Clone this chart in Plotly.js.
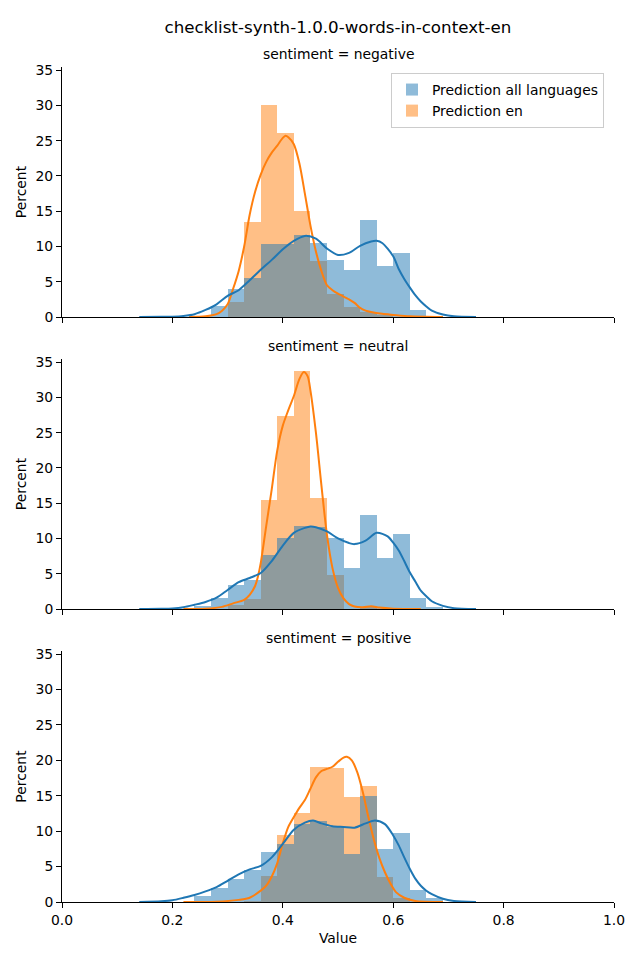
<!DOCTYPE html>
<html>
<head>
<meta charset="utf-8">
<script src="https://cdn.plot.ly/plotly-3.0.1.min.js"></script>
<style>html,body{margin:0;padding:0;background:#fff;}#chart{width:640px;height:960px;}</style>
</head>
<body>
<div id="chart"></div>
<script>
// ---- data ----
const chartTitle = "checklist-synth-1.0.0-words-in-context-en";
const facetTitles = ["sentiment = negative", "sentiment = neutral", "sentiment = positive"];
const seriesNames = ["Prediction all languages", "Prediction en"];

// histogram bin centers (bin width 0.03)
const binCenters = [0.255, 0.285, 0.315, 0.345, 0.375, 0.405, 0.435, 0.465, 0.495, 0.525, 0.555, 0.585, 0.615, 0.645, 0.675];
const binWidth = 0.03;

// histogram percentages
const negAll = [0.2, 1.6, 4.0, 5.6, 10.4, 10.3, 11.6, 10.5, 8.1, 6.6, 13.8, 7.3, 9.1, 1.0, 0.1];
const negEn  = [0, 0, 2.1, 13.5, 30.0, 26.1, 15.1, 7.9, 3.2, 1.4, 0.7, 0.3, 0, 0, 0];
const neuAll = [0.4, 1.5, 3.4, 4.1, 7.7, 10.0, 11.7, 11.6, 10.0, 5.8, 13.3, 7.3, 10.6, 1.5, 0.3];
const neuEn  = [0, 0, 0.5, 1.4, 15.5, 27.3, 33.7, 15.8, 4.8, 0, 0.3, 0, 0, 0, 0];
const posAll = [0.8, 2.0, 3.3, 4.5, 7.1, 8.2, 11.0, 11.4, 10.6, 6.8, 15.0, 7.5, 9.8, 1.7, 0.6];
const posEn  = [0, 0, 0, 0.2, 3.7, 9.5, 12.6, 19.1, 18.9, 14.8, 16.4, 3.6, 0.5, 0, 0];

// KDE curves
const negAllKdeX = [0.14,0.18,0.20,0.22,0.24,0.26,0.28,0.30,0.32,0.34,0.36,0.38,0.40,0.42,0.44,0.46,0.48,0.50,0.52,0.54,0.56,0.57,0.58,0.60,0.61,0.62,0.63,0.64,0.65,0.66,0.67,0.69,0.71,0.75];
const negAllKdeY = [0,0.02,0.05,0.15,0.4,1.0,1.8,3.0,3.8,5.2,6.7,8.1,9.6,10.8,11.5,11.1,9.7,8.8,9.1,10.1,10.7,10.8,10.5,8.6,6.8,5.4,4.2,3.1,2.2,1.5,0.9,0.35,0.1,0];
const negEnKdeX = [0.23,0.26,0.28,0.29,0.30,0.31,0.32,0.33,0.34,0.35,0.36,0.37,0.38,0.39,0.40,0.405,0.41,0.42,0.43,0.44,0.45,0.46,0.47,0.48,0.49,0.50,0.52,0.53,0.54,0.55,0.56,0.58,0.60,0.63,0.69];
const negEnKdeY = [0,0.1,0.4,0.9,1.8,4.0,6.5,10.0,14.5,17.8,20.2,22.0,23.3,24.3,25.4,25.7,25.5,24.5,21.8,17.5,13.0,9.3,6.5,4.5,3.8,3.3,2.5,2.0,1.3,0.9,0.7,0.45,0.3,0.1,0];
const neuAllKdeX = [0.14,0.18,0.20,0.22,0.24,0.26,0.28,0.30,0.32,0.34,0.36,0.38,0.40,0.42,0.44,0.45,0.46,0.48,0.50,0.52,0.53,0.55,0.57,0.59,0.60,0.61,0.62,0.63,0.64,0.65,0.66,0.67,0.69,0.71,0.75];
const neuAllKdeY = [0,0.03,0.08,0.25,0.6,1.0,1.6,2.7,3.8,4.4,5.1,6.8,9.0,10.8,11.5,11.7,11.6,11.0,10.0,9.35,9.2,9.7,10.8,10.3,9.4,8.3,6.8,5.2,3.9,2.6,1.8,1.1,0.45,0.12,0];
const neuEnKdeX = [0.22,0.26,0.29,0.31,0.33,0.34,0.35,0.355,0.36,0.37,0.38,0.39,0.40,0.41,0.42,0.43,0.438,0.445,0.45,0.46,0.47,0.48,0.49,0.50,0.51,0.52,0.53,0.545,0.56,0.575,0.60,0.65];
const neuEnKdeY = [0,0.05,0.3,0.8,1.3,2.0,3.3,4.6,6.5,11.8,17.0,22.5,26.0,28.2,30.2,32.6,33.6,33.0,31.0,25.0,17.5,10.5,5.8,3.0,1.5,0.7,0.35,0.25,0.4,0.2,0.05,0];
const posAllKdeX = [0.14,0.18,0.20,0.22,0.24,0.26,0.28,0.30,0.32,0.34,0.36,0.38,0.40,0.42,0.44,0.455,0.47,0.49,0.51,0.53,0.55,0.567,0.585,0.60,0.61,0.62,0.63,0.64,0.65,0.66,0.67,0.69,0.71,0.75];
const posAllKdeY = [0,0.1,0.25,0.6,1.0,1.5,2.1,3.0,3.9,4.6,5.1,6.3,8.2,10.2,11.2,11.5,11.1,10.7,10.6,10.5,11.1,11.5,11.0,9.4,8.0,6.3,4.7,3.3,2.3,1.6,1.1,0.45,0.15,0];
const posEnKdeX = [0.22,0.28,0.32,0.34,0.36,0.37,0.38,0.39,0.40,0.41,0.42,0.43,0.44,0.45,0.46,0.47,0.48,0.49,0.50,0.51,0.516,0.525,0.535,0.545,0.555,0.565,0.575,0.585,0.595,0.605,0.62,0.64,0.69];
const posEnKdeY = [0,0.05,0.3,0.6,1.6,2.3,3.6,5.5,8.3,10.6,12.0,13.3,14.4,16.0,17.6,18.5,18.8,19.1,19.8,20.4,20.5,20.0,18.3,15.5,12.0,8.8,6.2,4.2,2.6,1.4,0.6,0.15,0];

const xTicks = [0, 0.2, 0.4, 0.6, 0.8, 1.0];
const yTicks = [0, 5, 10, 15, 20, 25, 30, 35];

// ---- build ----
const blue = "#1f77b4", orange = "#ff7f0e";
const blueFill = "rgba(31,119,180,0.5)", orangeFill = "rgba(255,127,14,0.5)";
const panels = [
  {all: negAll, en: negEn, ak: [negAllKdeX, negAllKdeY], ek: [negEnKdeX, negEnKdeY]},
  {all: neuAll, en: neuEn, ak: [neuAllKdeX, neuAllKdeY], ek: [neuEnKdeX, neuEnKdeY]},
  {all: posAll, en: posEn, ak: [posAllKdeX, posAllKdeY], ek: [posEnKdeX, posEnKdeY]}
];
const traces = [];
panels.forEach((p, i) => {
  const xa = i === 0 ? "x" : "x" + (i + 1);
  const ya = i === 0 ? "y" : "y" + (i + 1);
  traces.push({type: "bar", x: binCenters, y: p.en, width: binWidth, xaxis: xa, yaxis: ya,
    marker: {color: orangeFill, line: {width: 0}}, name: seriesNames[1], legendrank: 2,
    showlegend: i === 0, hoverinfo: "skip"});
  traces.push({type: "bar", x: binCenters, y: p.all, width: binWidth, xaxis: xa, yaxis: ya,
    marker: {color: blueFill, line: {width: 0}}, name: seriesNames[0], legendrank: 1,
    showlegend: i === 0, hoverinfo: "skip"});
  traces.push({type: "scatter", mode: "lines", x: p.ek[0], y: p.ek[1], xaxis: xa, yaxis: ya,
    line: {color: orange, width: 2, shape: "spline", smoothing: 0.8}, showlegend: false, hoverinfo: "skip"});
  traces.push({type: "scatter", mode: "lines", x: p.ak[0], y: p.ak[1], xaxis: xa, yaxis: ya,
    line: {color: blue, width: 2, shape: "spline", smoothing: 0.8}, showlegend: false, hoverinfo: "skip"});
});

const font = {family: "DejaVu Sans", size: 13.9, color: "#000"};
const H = 960 - 67 - 58;
const domains = [[(902 - 317) / H, 1], [(902 - 609) / H, (902 - 359) / H], [0, (902 - 651) / H]];

function xAxis(i) {
  return {domain: [0, 1], range: [0, 1], anchor: i === 0 ? "y" : "y" + (i + 1),
    tickvals: xTicks, tickformat: ".1f", showticklabels: i === 2,
    ticks: "outside", ticklen: 5, tickwidth: 1, tickcolor: "#000",
    showline: true, linecolor: "#000", linewidth: 1, showgrid: false, zeroline: false,
    tickfont: font,
    title: i === 2 ? {text: "Value", font: font, standoff: 6} : {text: ""}};
}
function yAxis(i) {
  return {domain: domains[i], range: [0, 35.45], anchor: i === 0 ? "x" : "x" + (i + 1),
    tickvals: yTicks, ticks: "outside", ticklen: 5, tickwidth: 1, tickcolor: "#000",
    showline: true, linecolor: "#000", linewidth: 1, showgrid: false, zeroline: false,
    tickfont: font, title: {text: "Percent", font: font, standoff: 5}};
}

const layout = {
  width: 640, height: 960, autosize: false,
  paper_bgcolor: "#fff", plot_bgcolor: "#fff",
  margin: {l: 62, r: 26, t: 67, b: 58},
  barmode: "overlay", bargap: 0,
  font: font,
  title: {text: chartTitle, font: {family: "DejaVu Sans", size: 16.7, color: "#000"},
    x: 0.5, xref: "paper", xanchor: "center", y: 1 - 27 / 960, yref: "container", yanchor: "middle"},
  xaxis: xAxis(0), xaxis2: xAxis(1), xaxis3: xAxis(2),
  yaxis: yAxis(0), yaxis2: yAxis(1), yaxis3: yAxis(2),
  showlegend: true,
  legend: {x: 0.596, y: 0.9928, xanchor: "left", yanchor: "top",
    bgcolor: "rgba(255,255,255,0.8)", bordercolor: "#cccccc", borderwidth: 1,
    font: font, traceorder: "normal", itemwidth: 30, tracegroupgap: 0},
  annotations: facetTitles.map((t, i) => ({text: t, xref: "paper", yref: "paper",
    x: 0.5, y: domains[i][1], xanchor: "center", yanchor: "bottom", yshift: 3,
    showarrow: false, font: font}))
};

Plotly.newPlot("chart", traces, layout, {staticPlot: true, displayModeBar: false});
</script>
</body>
</html>
